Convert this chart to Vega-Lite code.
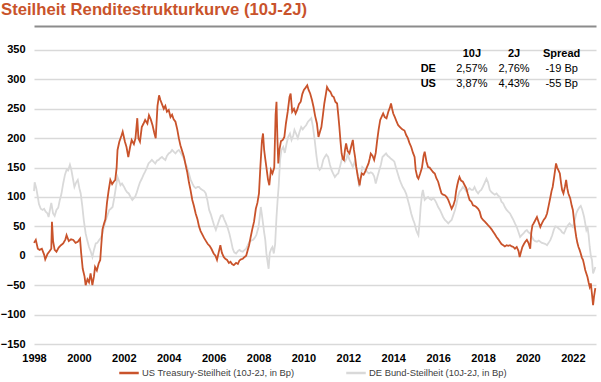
{
  "$schema": "https://vega.github.io/schema/vega-lite/v6.json",
  "width": 562,
  "height": 319,
  "autosize": {"type": "none"},
  "padding": {"left": 34, "top": 25, "right": 5, "bottom": 38},
  "background": "white",
  "config": {"view": {"stroke": null}, "font": "Liberation Sans"},
  "title": {
    "text": "Steilheit Renditestrukturkurve (10J-2J)",
    "anchor": "start",
    "frame": "group",
    "dx": -33,
    "dy": 15,
    "offset": 8,
    "baseline": "alphabetic",
    "fontSize": 16.7,
    "fontWeight": "bold",
    "color": "#C9532B",
    "font": "Liberation Sans"
  },
  "datasets": {
    "us": [
{"t":1998.0,"v":22},{"t":1998.08,"v":27},{"t":1998.17,"v":12},{"t":1998.25,"v":10},{"t":1998.35,"v":12},{"t":1998.45,"v":2},{"t":1998.5,"v":-6},{"t":1998.6,"v":3},{"t":1998.7,"v":8},{"t":1998.77,"v":12},{"t":1998.8,"v":58},{"t":1998.85,"v":25},{"t":1998.92,"v":10},{"t":1999.0,"v":7},{"t":1999.1,"v":14},{"t":1999.2,"v":18},{"t":1999.3,"v":21},{"t":1999.4,"v":28},{"t":1999.45,"v":35},{"t":1999.55,"v":25},{"t":1999.65,"v":28},{"t":1999.75,"v":27},{"t":1999.85,"v":22},{"t":1999.95,"v":24},{"t":2000.05,"v":29},{"t":2000.1,"v":5},{"t":2000.17,"v":-22},{"t":2000.25,"v":-35},{"t":2000.3,"v":-50},{"t":2000.38,"v":-40},{"t":2000.45,"v":-45},{"t":2000.52,"v":-30},{"t":2000.6,"v":-50},{"t":2000.67,"v":-35},{"t":2000.72,"v":-19},{"t":2000.8,"v":-25},{"t":2000.88,"v":-13},{"t":2000.95,"v":-7},{"t":2001.0,"v":20},{"t":2001.05,"v":45},{"t":2001.12,"v":55},{"t":2001.18,"v":62},{"t":2001.25,"v":90},{"t":2001.32,"v":110},{"t":2001.4,"v":129},{"t":2001.48,"v":122},{"t":2001.55,"v":126},{"t":2001.62,"v":129},{"t":2001.68,"v":150},{"t":2001.72,"v":180},{"t":2001.8,"v":194},{"t":2001.9,"v":205},{"t":2001.95,"v":211},{"t":2002.05,"v":194},{"t":2002.12,"v":185},{"t":2002.2,"v":168},{"t":2002.28,"v":185},{"t":2002.35,"v":197},{"t":2002.45,"v":190},{"t":2002.52,"v":200},{"t":2002.6,"v":234},{"t":2002.65,"v":200},{"t":2002.72,"v":194},{"t":2002.8,"v":219},{"t":2002.88,"v":225},{"t":2002.95,"v":231},{"t":2003.05,"v":225},{"t":2003.12,"v":239},{"t":2003.2,"v":232},{"t":2003.28,"v":222},{"t":2003.35,"v":210},{"t":2003.42,"v":200},{"t":2003.5,"v":255},{"t":2003.57,"v":273},{"t":2003.63,"v":265},{"t":2003.7,"v":258},{"t":2003.78,"v":250},{"t":2003.85,"v":255},{"t":2003.92,"v":245},{"t":2004.0,"v":248},{"t":2004.08,"v":236},{"t":2004.15,"v":240},{"t":2004.22,"v":232},{"t":2004.3,"v":228},{"t":2004.38,"v":215},{"t":2004.45,"v":200},{"t":2004.52,"v":188},{"t":2004.6,"v":178},{"t":2004.68,"v":168},{"t":2004.75,"v":155},{"t":2004.82,"v":143},{"t":2004.9,"v":125},{"t":2004.97,"v":112},{"t":2005.05,"v":95},{"t":2005.12,"v":85},{"t":2005.2,"v":72},{"t":2005.28,"v":62},{"t":2005.35,"v":50},{"t":2005.42,"v":42},{"t":2005.5,"v":36},{"t":2005.58,"v":30},{"t":2005.66,"v":25},{"t":2005.74,"v":20},{"t":2005.82,"v":17},{"t":2005.9,"v":12},{"t":2006.0,"v":4},{"t":2006.08,"v":0},{"t":2006.15,"v":-7},{"t":2006.22,"v":5},{"t":2006.3,"v":18},{"t":2006.37,"v":5},{"t":2006.45,"v":-2},{"t":2006.52,"v":-5},{"t":2006.6,"v":-7},{"t":2006.68,"v":-12},{"t":2006.75,"v":-10},{"t":2006.82,"v":-14},{"t":2006.9,"v":-16},{"t":2007.0,"v":-12},{"t":2007.08,"v":-14},{"t":2007.15,"v":-8},{"t":2007.22,"v":-6},{"t":2007.3,"v":-5},{"t":2007.38,"v":-2},{"t":2007.45,"v":0},{"t":2007.52,"v":10},{"t":2007.58,"v":18},{"t":2007.65,"v":32},{"t":2007.72,"v":45},{"t":2007.8,"v":58},{"t":2007.88,"v":80},{"t":2007.95,"v":90},{"t":2008.02,"v":106},{"t":2008.08,"v":150},{"t":2008.15,"v":195},{"t":2008.2,"v":208},{"t":2008.25,"v":180},{"t":2008.3,"v":165},{"t":2008.35,"v":151},{"t":2008.42,"v":130},{"t":2008.48,"v":120},{"t":2008.55,"v":146},{"t":2008.62,"v":140},{"t":2008.7,"v":150},{"t":2008.76,"v":240},{"t":2008.8,"v":262},{"t":2008.84,"v":200},{"t":2008.88,"v":157},{"t":2008.93,"v":180},{"t":2009.0,"v":195},{"t":2009.08,"v":197},{"t":2009.15,"v":202},{"t":2009.22,"v":225},{"t":2009.3,"v":245},{"t":2009.38,"v":270},{"t":2009.43,"v":276},{"t":2009.5,"v":245},{"t":2009.58,"v":250},{"t":2009.65,"v":242},{"t":2009.72,"v":248},{"t":2009.8,"v":258},{"t":2009.88,"v":262},{"t":2009.95,"v":275},{"t":2010.02,"v":282},{"t":2010.1,"v":286},{"t":2010.17,"v":290},{"t":2010.23,"v":282},{"t":2010.3,"v":276},{"t":2010.38,"v":265},{"t":2010.45,"v":253},{"t":2010.52,"v":238},{"t":2010.6,"v":225},{"t":2010.67,"v":202},{"t":2010.73,"v":210},{"t":2010.8,"v":219},{"t":2010.87,"v":240},{"t":2010.93,"v":259},{"t":2011.0,"v":275},{"t":2011.05,"v":287},{"t":2011.12,"v":282},{"t":2011.2,"v":279},{"t":2011.28,"v":272},{"t":2011.35,"v":270},{"t":2011.42,"v":262},{"t":2011.5,"v":259},{"t":2011.55,"v":240},{"t":2011.6,"v":219},{"t":2011.65,"v":195},{"t":2011.7,"v":174},{"t":2011.75,"v":165},{"t":2011.8,"v":163},{"t":2011.85,"v":180},{"t":2011.9,"v":191},{"t":2011.97,"v":178},{"t":2012.05,"v":174},{"t":2012.12,"v":185},{"t":2012.2,"v":197},{"t":2012.25,"v":180},{"t":2012.3,"v":168},{"t":2012.35,"v":152},{"t":2012.42,"v":135},{"t":2012.5,"v":120},{"t":2012.55,"v":132},{"t":2012.6,"v":140},{"t":2012.68,"v":138},{"t":2012.75,"v":143},{"t":2012.82,"v":150},{"t":2012.9,"v":157},{"t":2012.95,"v":165},{"t":2013.0,"v":174},{"t":2013.08,"v":170},{"t":2013.15,"v":163},{"t":2013.22,"v":175},{"t":2013.28,"v":195},{"t":2013.35,"v":215},{"t":2013.42,"v":231},{"t":2013.5,"v":238},{"t":2013.55,"v":242},{"t":2013.62,"v":236},{"t":2013.7,"v":234},{"t":2013.78,"v":245},{"t":2013.85,"v":252},{"t":2013.9,"v":259},{"t":2013.95,"v":250},{"t":2014.0,"v":242},{"t":2014.08,"v":235},{"t":2014.15,"v":228},{"t":2014.22,"v":222},{"t":2014.3,"v":219},{"t":2014.4,"v":215},{"t":2014.5,"v":213},{"t":2014.58,"v":205},{"t":2014.65,"v":200},{"t":2014.72,"v":192},{"t":2014.8,"v":185},{"t":2014.88,"v":175},{"t":2014.95,"v":168},{"t":2015.0,"v":146},{"t":2015.07,"v":134},{"t":2015.12,"v":131},{"t":2015.2,"v":140},{"t":2015.28,"v":150},{"t":2015.35,"v":170},{"t":2015.4,"v":177},{"t":2015.48,"v":160},{"t":2015.55,"v":151},{"t":2015.62,"v":150},{"t":2015.7,"v":146},{"t":2015.78,"v":142},{"t":2015.85,"v":140},{"t":2015.92,"v":132},{"t":2016.0,"v":126},{"t":2016.08,"v":115},{"t":2016.15,"v":106},{"t":2016.22,"v":104},{"t":2016.3,"v":103},{"t":2016.38,"v":100},{"t":2016.45,"v":95},{"t":2016.52,"v":88},{"t":2016.6,"v":80},{"t":2016.68,"v":86},{"t":2016.75,"v":95},{"t":2016.8,"v":110},{"t":2016.85,"v":120},{"t":2016.9,"v":128},{"t":2016.95,"v":134},{"t":2017.02,"v":128},{"t":2017.1,"v":126},{"t":2017.18,"v":120},{"t":2017.25,"v":115},{"t":2017.32,"v":105},{"t":2017.4,"v":95},{"t":2017.48,"v":92},{"t":2017.55,"v":86},{"t":2017.62,"v":85},{"t":2017.7,"v":83},{"t":2017.78,"v":80},{"t":2017.85,"v":75},{"t":2017.92,"v":65},{"t":2018.0,"v":61},{"t":2018.08,"v":58},{"t":2018.15,"v":55},{"t":2018.22,"v":52},{"t":2018.3,"v":49},{"t":2018.38,"v":45},{"t":2018.45,"v":41},{"t":2018.52,"v":37},{"t":2018.6,"v":32},{"t":2018.68,"v":28},{"t":2018.75,"v":24},{"t":2018.82,"v":20},{"t":2018.9,"v":18},{"t":2018.97,"v":16},{"t":2019.05,"v":18},{"t":2019.12,"v":17},{"t":2019.2,"v":18},{"t":2019.28,"v":16},{"t":2019.35,"v":15},{"t":2019.42,"v":12},{"t":2019.5,"v":15},{"t":2019.58,"v":8},{"t":2019.63,"v":-2},{"t":2019.68,"v":5},{"t":2019.75,"v":15},{"t":2019.82,"v":20},{"t":2019.88,"v":24},{"t":2019.95,"v":27},{"t":2020.02,"v":22},{"t":2020.1,"v":12},{"t":2020.15,"v":40},{"t":2020.2,"v":52},{"t":2020.25,"v":55},{"t":2020.32,"v":60},{"t":2020.4,"v":66},{"t":2020.47,"v":58},{"t":2020.55,"v":49},{"t":2020.62,"v":55},{"t":2020.7,"v":61},{"t":2020.78,"v":65},{"t":2020.85,"v":72},{"t":2020.92,"v":85},{"t":2021.0,"v":100},{"t":2021.05,"v":110},{"t":2021.1,"v":117},{"t":2021.17,"v":135},{"t":2021.25,"v":157},{"t":2021.3,"v":150},{"t":2021.35,"v":146},{"t":2021.42,"v":140},{"t":2021.47,"v":125},{"t":2021.52,"v":112},{"t":2021.58,"v":106},{"t":2021.65,"v":118},{"t":2021.7,"v":129},{"t":2021.75,"v":115},{"t":2021.8,"v":106},{"t":2021.88,"v":98},{"t":2021.95,"v":85},{"t":2022.0,"v":78},{"t":2022.05,"v":61},{"t":2022.1,"v":45},{"t":2022.15,"v":32},{"t":2022.2,"v":22},{"t":2022.25,"v":15},{"t":2022.3,"v":10},{"t":2022.35,"v":4},{"t":2022.4,"v":-3},{"t":2022.45,"v":-7},{"t":2022.5,"v":-15},{"t":2022.55,"v":-24},{"t":2022.6,"v":-30},{"t":2022.65,"v":-36},{"t":2022.7,"v":-45},{"t":2022.75,"v":-53},{"t":2022.8,"v":-47},{"t":2022.85,"v":-65},{"t":2022.9,"v":-84},{"t":2022.94,"v":-70},{"t":2023.0,"v":-55}
    ],
    "de": [
{"t":1998.0,"v":110},{"t":1998.03,"v":125},{"t":1998.1,"v":115},{"t":1998.17,"v":100},{"t":1998.22,"v":88},{"t":1998.3,"v":80},{"t":1998.38,"v":78},{"t":1998.45,"v":80},{"t":1998.52,"v":75},{"t":1998.6,"v":72},{"t":1998.65,"v":66},{"t":1998.72,"v":80},{"t":1998.77,"v":90},{"t":1998.85,"v":72},{"t":1998.92,"v":68},{"t":1999.0,"v":78},{"t":1999.08,"v":82},{"t":1999.15,"v":95},{"t":1999.22,"v":105},{"t":1999.3,"v":123},{"t":1999.38,"v":138},{"t":1999.45,"v":146},{"t":1999.52,"v":145},{"t":1999.6,"v":155},{"t":1999.67,"v":145},{"t":1999.72,"v":134},{"t":1999.8,"v":117},{"t":1999.88,"v":125},{"t":1999.95,"v":129},{"t":2000.02,"v":115},{"t":2000.08,"v":106},{"t":2000.15,"v":85},{"t":2000.22,"v":60},{"t":2000.3,"v":38},{"t":2000.38,"v":25},{"t":2000.45,"v":15},{"t":2000.52,"v":8},{"t":2000.6,"v":-2},{"t":2000.67,"v":10},{"t":2000.75,"v":21},{"t":2000.82,"v":22},{"t":2000.9,"v":27},{"t":2000.97,"v":30},{"t":2001.05,"v":38},{"t":2001.12,"v":50},{"t":2001.2,"v":61},{"t":2001.28,"v":70},{"t":2001.35,"v":78},{"t":2001.42,"v":80},{"t":2001.5,"v":83},{"t":2001.58,"v":100},{"t":2001.65,"v":117},{"t":2001.72,"v":134},{"t":2001.78,"v":128},{"t":2001.85,"v":120},{"t":2001.92,"v":123},{"t":2002.0,"v":118},{"t":2002.08,"v":112},{"t":2002.15,"v":108},{"t":2002.22,"v":106},{"t":2002.3,"v":100},{"t":2002.38,"v":95},{"t":2002.45,"v":98},{"t":2002.5,"v":100},{"t":2002.58,"v":108},{"t":2002.65,"v":117},{"t":2002.72,"v":125},{"t":2002.8,"v":131},{"t":2002.88,"v":138},{"t":2002.95,"v":143},{"t":2003.03,"v":150},{"t":2003.1,"v":157},{"t":2003.18,"v":160},{"t":2003.25,"v":163},{"t":2003.32,"v":160},{"t":2003.4,"v":157},{"t":2003.48,"v":162},{"t":2003.55,"v":163},{"t":2003.62,"v":166},{"t":2003.7,"v":168},{"t":2003.78,"v":165},{"t":2003.85,"v":163},{"t":2003.92,"v":170},{"t":2004.0,"v":174},{"t":2004.08,"v":176},{"t":2004.15,"v":180},{"t":2004.22,"v":177},{"t":2004.3,"v":174},{"t":2004.38,"v":178},{"t":2004.45,"v":180},{"t":2004.52,"v":176},{"t":2004.6,"v":171},{"t":2004.68,"v":165},{"t":2004.75,"v":157},{"t":2004.82,"v":150},{"t":2004.9,"v":140},{"t":2004.97,"v":130},{"t":2005.05,"v":123},{"t":2005.12,"v":118},{"t":2005.2,"v":115},{"t":2005.28,"v":117},{"t":2005.35,"v":117},{"t":2005.42,"v":114},{"t":2005.5,"v":112},{"t":2005.58,"v":110},{"t":2005.65,"v":106},{"t":2005.72,"v":95},{"t":2005.8,"v":78},{"t":2005.88,"v":70},{"t":2005.95,"v":61},{"t":2006.02,"v":52},{"t":2006.1,"v":44},{"t":2006.17,"v":52},{"t":2006.25,"v":61},{"t":2006.32,"v":68},{"t":2006.4,"v":69},{"t":2006.47,"v":62},{"t":2006.55,"v":55},{"t":2006.62,"v":48},{"t":2006.7,"v":38},{"t":2006.78,"v":25},{"t":2006.85,"v":12},{"t":2006.92,"v":6},{"t":2007.0,"v":4},{"t":2007.08,"v":8},{"t":2007.15,"v":10},{"t":2007.22,"v":8},{"t":2007.3,"v":7},{"t":2007.38,"v":10},{"t":2007.45,"v":12},{"t":2007.52,"v":18},{"t":2007.6,"v":24},{"t":2007.68,"v":26},{"t":2007.75,"v":27},{"t":2007.82,"v":30},{"t":2007.9,"v":35},{"t":2007.95,"v":42},{"t":2008.0,"v":49},{"t":2008.05,"v":65},{"t":2008.1,"v":83},{"t":2008.15,"v":70},{"t":2008.2,"v":55},{"t":2008.25,"v":40},{"t":2008.3,"v":27},{"t":2008.35,"v":4},{"t":2008.42,"v":-15},{"t":2008.45,"v":-22},{"t":2008.5,"v":5},{"t":2008.57,"v":12},{"t":2008.62,"v":15},{"t":2008.68,"v":4},{"t":2008.74,"v":20},{"t":2008.8,"v":66},{"t":2008.85,"v":95},{"t":2008.9,"v":120},{"t":2008.96,"v":163},{"t":2009.02,"v":180},{"t":2009.1,"v":185},{"t":2009.17,"v":175},{"t":2009.25,"v":191},{"t":2009.32,"v":202},{"t":2009.4,"v":208},{"t":2009.47,"v":197},{"t":2009.55,"v":205},{"t":2009.6,"v":214},{"t":2009.67,"v":208},{"t":2009.75,"v":200},{"t":2009.82,"v":210},{"t":2009.9,"v":219},{"t":2009.97,"v":215},{"t":2010.05,"v":219},{"t":2010.12,"v":222},{"t":2010.2,"v":228},{"t":2010.28,"v":231},{"t":2010.35,"v":234},{"t":2010.42,"v":220},{"t":2010.5,"v":197},{"t":2010.58,"v":170},{"t":2010.65,"v":151},{"t":2010.72,"v":146},{"t":2010.8,"v":150},{"t":2010.88,"v":163},{"t":2010.95,"v":168},{"t":2011.02,"v":172},{"t":2011.1,"v":168},{"t":2011.18,"v":155},{"t":2011.25,"v":146},{"t":2011.32,"v":140},{"t":2011.4,"v":134},{"t":2011.48,"v":138},{"t":2011.55,"v":140},{"t":2011.62,"v":150},{"t":2011.7,"v":163},{"t":2011.78,"v":168},{"t":2011.85,"v":160},{"t":2011.92,"v":165},{"t":2011.97,"v":174},{"t":2012.05,"v":163},{"t":2012.12,"v":158},{"t":2012.2,"v":151},{"t":2012.28,"v":160},{"t":2012.35,"v":150},{"t":2012.42,"v":138},{"t":2012.48,"v":117},{"t":2012.55,"v":135},{"t":2012.62,"v":151},{"t":2012.7,"v":148},{"t":2012.78,"v":146},{"t":2012.85,"v":142},{"t":2012.92,"v":140},{"t":2013.0,"v":142},{"t":2013.08,"v":140},{"t":2013.15,"v":135},{"t":2013.22,"v":123},{"t":2013.3,"v":135},{"t":2013.38,"v":146},{"t":2013.45,"v":155},{"t":2013.52,"v":168},{"t":2013.6,"v":171},{"t":2013.68,"v":174},{"t":2013.75,"v":170},{"t":2013.82,"v":168},{"t":2013.9,"v":165},{"t":2013.97,"v":163},{"t":2014.05,"v":160},{"t":2014.12,"v":150},{"t":2014.2,"v":140},{"t":2014.28,"v":130},{"t":2014.35,"v":123},{"t":2014.42,"v":117},{"t":2014.5,"v":112},{"t":2014.58,"v":105},{"t":2014.65,"v":95},{"t":2014.72,"v":85},{"t":2014.8,"v":72},{"t":2014.88,"v":62},{"t":2014.95,"v":55},{"t":2015.02,"v":44},{"t":2015.08,"v":38},{"t":2015.12,"v":35},{"t":2015.18,"v":60},{"t":2015.22,"v":83},{"t":2015.28,"v":105},{"t":2015.32,"v":112},{"t":2015.4,"v":95},{"t":2015.48,"v":98},{"t":2015.55,"v":100},{"t":2015.62,"v":97},{"t":2015.7,"v":95},{"t":2015.78,"v":98},{"t":2015.85,"v":95},{"t":2015.92,"v":90},{"t":2016.0,"v":83},{"t":2016.08,"v":78},{"t":2016.15,"v":72},{"t":2016.22,"v":66},{"t":2016.3,"v":61},{"t":2016.38,"v":58},{"t":2016.45,"v":55},{"t":2016.52,"v":58},{"t":2016.6,"v":61},{"t":2016.68,"v":70},{"t":2016.75,"v":78},{"t":2016.82,"v":89},{"t":2016.88,"v":100},{"t":2016.95,"v":109},{"t":2017.02,"v":112},{"t":2017.1,"v":117},{"t":2017.18,"v":114},{"t":2017.25,"v":110},{"t":2017.32,"v":112},{"t":2017.4,"v":115},{"t":2017.48,"v":112},{"t":2017.55,"v":112},{"t":2017.62,"v":117},{"t":2017.7,"v":110},{"t":2017.78,"v":106},{"t":2017.85,"v":110},{"t":2017.92,"v":112},{"t":2018.0,"v":118},{"t":2018.08,"v":125},{"t":2018.15,"v":131},{"t":2018.22,"v":125},{"t":2018.3,"v":112},{"t":2018.38,"v":108},{"t":2018.45,"v":106},{"t":2018.52,"v":104},{"t":2018.6,"v":106},{"t":2018.68,"v":102},{"t":2018.75,"v":100},{"t":2018.82,"v":92},{"t":2018.9,"v":89},{"t":2018.97,"v":83},{"t":2019.05,"v":78},{"t":2019.12,"v":75},{"t":2019.2,"v":72},{"t":2019.28,"v":66},{"t":2019.35,"v":61},{"t":2019.42,"v":55},{"t":2019.5,"v":49},{"t":2019.58,"v":40},{"t":2019.65,"v":32},{"t":2019.72,"v":35},{"t":2019.8,"v":38},{"t":2019.88,"v":42},{"t":2019.95,"v":44},{"t":2020.02,"v":40},{"t":2020.1,"v":38},{"t":2020.18,"v":32},{"t":2020.25,"v":27},{"t":2020.32,"v":25},{"t":2020.4,"v":24},{"t":2020.48,"v":26},{"t":2020.55,"v":24},{"t":2020.62,"v":22},{"t":2020.7,"v":21},{"t":2020.78,"v":20},{"t":2020.85,"v":18},{"t":2020.92,"v":22},{"t":2021.0,"v":27},{"t":2021.08,"v":35},{"t":2021.15,"v":44},{"t":2021.22,"v":50},{"t":2021.3,"v":49},{"t":2021.38,"v":46},{"t":2021.45,"v":44},{"t":2021.52,"v":40},{"t":2021.6,"v":38},{"t":2021.65,"v":42},{"t":2021.7,"v":47},{"t":2021.78,"v":52},{"t":2021.85,"v":55},{"t":2021.92,"v":52},{"t":2022.0,"v":49},{"t":2022.08,"v":60},{"t":2022.15,"v":72},{"t":2022.22,"v":78},{"t":2022.3,"v":83},{"t":2022.35,"v":85},{"t":2022.42,"v":78},{"t":2022.5,"v":66},{"t":2022.55,"v":55},{"t":2022.6,"v":44},{"t":2022.65,"v":49},{"t":2022.7,"v":35},{"t":2022.75,"v":15},{"t":2022.8,"v":0},{"t":2022.85,"v":-7},{"t":2022.9,"v":-30},{"t":2022.95,"v":-25},{"t":2023.0,"v":-19}
    ],
    "ticks": [{"t":1998},{"t":2000},{"t":2002},{"t":2004},{"t":2006},{"t":2008},{"t":2010},{"t":2012},{"t":2014},{"t":2016},{"t":2018},{"t":2020},{"t":2022}],
    "headers": [
      {"t":2017.5,"v":343,"label":"10J"},
      {"t":2019.38,"v":343,"label":"2J"},
      {"t":2021.5,"v":343,"label":"Spread"}
    ],
    "rowlabels": [
      {"t":2015.22,"v":317,"label":"DE"},
      {"t":2015.22,"v":292,"label":"US"}
    ],
    "cells": [
      {"t":2017.5,"v":317,"label":"2,57%"},
      {"t":2019.38,"v":317,"label":"2,76%"},
      {"t":2021.5,"v":317,"label":"-19 Bp"},
      {"t":2017.5,"v":292,"label":"3,87%"},
      {"t":2019.38,"v":292,"label":"4,43%"},
      {"t":2021.5,"v":292,"label":"-55 Bp"}
    ]
  },
  "encoding": {
    "x": {
      "field": "t", "type": "quantitative", "title": null,
      "scale": {"domain": [1998, 2023.03], "nice": false, "zero": false},
      "axis": {
        "values": [1998,2000,2002,2004,2006,2008,2010,2012,2014,2016,2018,2020,2022],
        "format": "d", "domain": false, "ticks": false, "grid": false,
        "labelFlush": false, "labelOverlap": false,
        "labelFont": "Liberation Sans", "labelFontSize": 11, "labelFontWeight": "bold", "labelColor": "#000000",
        "labelPadding": 8
      }
    },
    "y": {
      "field": "v", "type": "quantitative", "title": null,
      "scale": {"domain": [-150, 392.5], "nice": false, "zero": false},
      "axis": {
        "values": [-150,-100,-50,0,50,100,150,200,250,300,350,391.5],
        "labelExpr": "datum.value > 360 ? '' : datum.label",
        "domain": false, "ticks": false, "grid": true,
        "gridColor": {"condition": {"test": "datum.value > 360", "value": "#8C8C8C"}, "value": "#D9D9D9"},
        "gridWidth": {"condition": {"test": "datum.value > 360", "value": 2}, "value": 1.5},
        "labelFont": "Liberation Sans", "labelFontSize": 11, "labelFontWeight": "bold", "labelColor": "#000000",
        "labelPadding": 9
      }
    }
  },
  "layer": [
    {
      "data": {"values": [{}]},
      "mark": {"type": "rect", "color": "white"},
      "encoding": {
        "x": {"datum": 2014.88, "type": "quantitative"},
        "x2": {"datum": 2022.68},
        "y": {"datum": 265, "type": "quantitative"},
        "y2": {"datum": 360}
      }
    },
    {
      "data": {"name": "de"},
      "mark": {"type": "line", "strokeWidth": 1.8},
      "encoding": {
        "color": {"datum": "DE Bund-Steilheit (10J-2J, in Bp)", "type": "nominal"}
      }
    },
    {
      "data": {"name": "us"},
      "mark": {"type": "line", "strokeWidth": 1.8},
      "encoding": {
        "color": {
          "datum": "US Treasury-Steilheit (10J-2J, in Bp)", "type": "nominal",
          "scale": {
            "domain": ["US Treasury-Steilheit (10J-2J, in Bp)", "DE Bund-Steilheit (10J-2J, in Bp)"],
            "range": ["#C9532B", "#D9D9D9"]
          },
          "legend": {
            "title": null, "orient": "none", "direction": "horizontal",
            "legendX": 84, "legendY": 337, "padding": 0,
            "symbolType": "stroke", "symbolSize": 380, "symbolStrokeWidth": 2.5,
            "labelFont": "Liberation Sans", "labelFontSize": 9.4, "labelColor": "#404040",
            "labelOffset": 2, "columnPadding": 46, "labelLimit": 300
          }
        }
      }
    },
    {
      "data": {"values": [{}]},
      "mark": {"type": "rule", "color": "#7F7F7F", "strokeWidth": 2},
      "encoding": {
        "x": {"datum": 1998, "type": "quantitative"},
        "x2": {"datum": 2023.03},
        "y": {"datum": 0, "type": "quantitative"}
      }
    },
    {
      "data": {"name": "ticks"},
      "mark": {"type": "rule", "color": "#7F7F7F", "strokeWidth": 1.5},
      "encoding": {
        "y": {"datum": 0, "type": "quantitative"},
        "y2": {"datum": -6}
      }
    },
    {
      "data": {"name": "headers"},
      "mark": {"type": "text", "font": "Liberation Sans", "fontSize": 11, "fontWeight": "bold", "align": "center", "baseline": "middle", "color": "#000000"},
      "encoding": {"text": {"field": "label"}}
    },
    {
      "data": {"name": "rowlabels"},
      "mark": {"type": "text", "font": "Liberation Sans", "fontSize": 11, "fontWeight": "bold", "align": "left", "baseline": "middle", "color": "#000000"},
      "encoding": {"text": {"field": "label"}}
    },
    {
      "data": {"name": "cells"},
      "mark": {"type": "text", "font": "Liberation Sans", "fontSize": 11, "align": "center", "baseline": "middle", "color": "#000000"},
      "encoding": {"text": {"field": "label"}}
    }
  ]
}
